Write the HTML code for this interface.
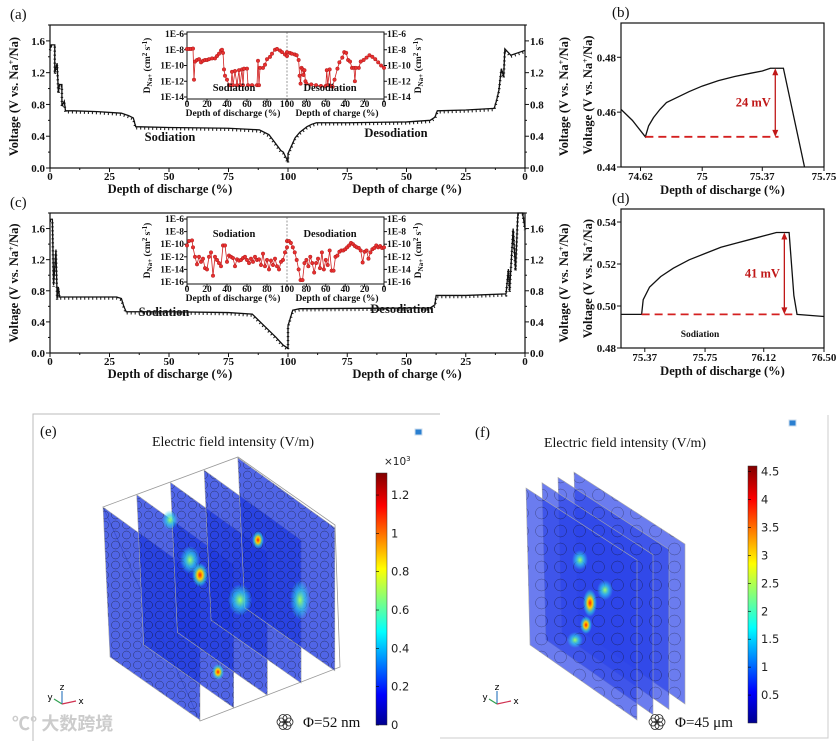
<!DOCTYPE html>
<html><head><meta charset="utf-8">
<style>
html,body{margin:0;padding:0;background:#fff;}
svg{display:block;font-family:"Liberation Serif","Noto Serif CJK SC",serif;}
.tk{font-weight:bold;font-size:11px;fill:#111;}
.tt{font-weight:bold;font-size:12.5px;fill:#111;}
.it{font-weight:bold;font-size:9.5px;fill:#111;}
.sans{font-family:"DejaVu Sans","Liberation Sans",sans-serif;}
</style></head>
<body>
<svg id="fig" width="837" height="741" viewBox="0 0 837 741" xmlns="http://www.w3.org/2000/svg">
<defs>
<linearGradient id="jet" x1="0" y1="1" x2="0" y2="0">
<stop offset="0" stop-color="#00008f"/><stop offset="0.12" stop-color="#0000ff"/><stop offset="0.37" stop-color="#00ffff"/><stop offset="0.62" stop-color="#ffff00"/><stop offset="0.87" stop-color="#ff0000"/><stop offset="1" stop-color="#800000"/>
</linearGradient>
<pattern id="rings" width="11" height="10" patternUnits="userSpaceOnUse">
<circle cx="5.5" cy="5" r="4" fill="none" stroke="#111" stroke-width="0.5" opacity="0.6"/>
</pattern>
<pattern id="rings2" width="19" height="18" patternUnits="userSpaceOnUse">
<circle cx="9.5" cy="9" r="6" fill="none" stroke="#112" stroke-width="0.5" opacity="0.5"/>
</pattern>
<radialGradient id="hot" cx="0.5" cy="0.5" r="0.5">
<stop offset="0" stop-color="#ff2000"/><stop offset="0.35" stop-color="#ffd000"/><stop offset="0.7" stop-color="#30e0e0" stop-opacity="0.6"/><stop offset="1" stop-color="#30e0e0" stop-opacity="0"/>
</radialGradient>
<radialGradient id="warm" cx="0.5" cy="0.5" r="0.5">
<stop offset="0" stop-color="#a0ff60"/><stop offset="0.5" stop-color="#30d0f0" stop-opacity="0.7"/><stop offset="1" stop-color="#30d0f0" stop-opacity="0"/>
</radialGradient>
</defs>
</svg>
<script>
// ---------- DATA ----------
const aDischarge = [[0,1.5],[0.5,1.55],[2,1.55],[2,1.2],[3,1.32],[3.5,0.95],[4,1.05],[5,1.05],[5,0.78],[6,0.84],[6.5,0.72],[10,0.72],[20,0.71],[30,0.69],[33,0.66],[35,0.63],[36,0.52],[50,0.51],[75,0.5],[88,0.48],[92,0.42],[95,0.3],[97,0.22],[98,0.2],[99,0.14],[100,0.08]];
const aCharge = [[100,0.1],[100,0.18],[97,0.38],[95,0.45],[92,0.52],[90,0.55],[88,0.57],[75,0.57],[50,0.58],[40,0.6],[38,0.64],[37,0.72],[25,0.73],[13,0.75],[12,0.85],[11,0.98],[10,1.25],[9,1.15],[8.5,1.5],[6,1.42],[3,1.45],[0,1.48]];
const cDischarge = [[0,1.72],[1,1.72],[1.5,0.87],[2.5,1.33],[3,0.7],[3.5,0.85],[4,0.72],[28,0.72],[30,0.7],[31,0.6],[32,0.53],[50,0.53],[75,0.52],[85,0.5],[90,0.35],[95,0.2],[98,0.1],[100,0.06]];
const cCharge = [[100,0.08],[100,0.35],[98,0.55],[95,0.57],[40,0.58],[38,0.62],[37.5,0.74],[25,0.74],[8,0.76],[7,1.08],[6.5,0.8],[5,1.6],[4,1.07],[3,1.8],[1,1.8],[0,1.6]];
const voltTicks = ["0.0","0.4","0.8","1.2","1.6"];
const voltTickVals = [0,0.4,0.8,1.2,1.6];
const depthTicks = [0,25,50,75,100];

const aInsetDis = [[0,-7.9],[2,-7.9],[4,-7.9],[6,-7.85],[7,-11.8],[8,-9.5],[10,-9.3],[12,-9.2],[14,-9.6],[16,-9.4],[18,-9.3],[20,-9.3],[22,-9.2],[25,-9.1],[28,-9.1],[30,-8.8],[32,-8.5],[34,-8.1],[35,-8.0],[36,-8.4],[37,-10.5],[38,-11.3],[40,-11.8],[42,-12.5],[44,-12.5],[45,-10.8],[46,-12.5],[48,-10.7],[50,-12.5],[52,-10.6],[53,-12.5],[55,-10.5],[56,-12.5],[57,-10.4],[60,-10.4],[61,-12.5],[65,-12.5],[70,-12.5],[71,-9.4],[72,-12.5],[73,-10.3],[76,-10.3],[78,-9.9],[80,-9.2],[83,-8.9],[85,-8.5],[88,-8.0],[90,-7.9],[93,-8.1],[95,-8.3],[98,-8.6],[100,-8.8]];
const aInsetCha = [[100,-8.3],[97,-8.4],[95,-8.5],[92,-8.6],[90,-8.7],[88,-9.3],[87,-11.3],[86,-12.3],[85,-10.3],[84,-10.5],[83,-11.2],[82,-10.6],[81,-12.0],[80,-12.3],[75,-12.4],[70,-12.5],[65,-12.6],[60,-12.6],[59,-10.6],[58,-12.5],[56,-10.5],[55,-12.6],[53,-12.7],[51,-11.8],[48,-10.4],[46,-9.6],[43,-9.0],[41,-8.3],[39,-8.4],[37,-9.3],[35,-9.5],[33,-10.3],[31,-10.3],[30,-12.0],[29,-10.3],[26,-10.3],[24,-9.5],[21,-9.3],[18,-9.0],[15,-8.7],[12,-8.9],[9,-9.2],[6,-9.6],[3,-10.0],[0,-10.3]];
const cInsetDis = [[0,-10.2],[2,-9.5],[5,-9.4],[6,-10.5],[8,-12],[10,-13.2],[12,-12],[14,-12.8],[16,-12.3],[18,-13.8],[20,-14],[22,-12],[24,-11.3],[26,-15],[28,-12],[30,-12.5],[32,-13],[34,-13.5],[36,-10.2],[38,-10.2],[40,-12.8],[42,-11.8],[44,-12],[46,-12.2],[48,-13.5],[50,-12.4],[52,-12.6],[54,-12.5],[56,-12.2],[58,-12],[60,-12.5],[62,-13],[64,-12.3],[66,-12.8],[68,-12],[70,-12.5],[72,-12.4],[74,-13.3],[76,-11.5],[78,-13.5],[80,-12.5],[82,-14],[84,-12.6],[86,-13.3],[88,-12.3],[90,-13.5],[92,-14],[94,-12.8],[96,-12.5],[98,-11.3],[100,-10.5]];
const cInsetCha = [[100,-9.5],[98,-9.5],[96,-9.8],[94,-10.5],[92,-11.3],[90,-12.5],[88,-14],[86,-15.7],[84,-15.7],[82,-13],[80,-12.5],[78,-13.5],[76,-12],[74,-13],[72,-14.5],[70,-13],[68,-12.3],[66,-13.8],[64,-11.3],[62,-14],[60,-12.5],[58,-13.3],[56,-11],[54,-14.2],[52,-14.2],[50,-12],[48,-11.8],[46,-11.2],[44,-11],[42,-11],[40,-10.8],[38,-10.5],[36,-10.2],[34,-9.8],[32,-10],[30,-10.3],[28,-10.5],[26,-10.6],[24,-11],[22,-12.9],[20,-11.2],[18,-11],[16,-12.3],[14,-11.3],[12,-10.8],[10,-10.6],[8,-10.2],[6,-10.5],[4,-10.3],[2,-10.6],[0,-10.5]];
const insetDepthTicks = [0,20,40,60,80,100];
const aInsetLogTicks = [-6,-8,-10,-12,-14];
const cInsetLogTicks = [-6,-8,-10,-12,-14,-16];

const bCurve = [[74.5,0.461],[74.57,0.457],[74.65,0.451],[74.67,0.455],[74.7,0.458],[74.74,0.461],[74.78,0.4635],[74.85,0.4655],[74.92,0.4675],[75.0,0.4695],[75.1,0.4715],[75.2,0.473],[75.3,0.4742],[75.37,0.475],[75.42,0.476],[75.5,0.476],[75.63,0.44]];
const bDashed = [74.65,75.47,0.451];
const bArrow = [75.45,0.451,0.476];
const bXTicks = [74.62,75,75.37,75.75];
const bXLabels = ["74.62","75","75.37","75.75"];
const bYTicks = [0.44,0.46,0.48];
const bYLabels = ["0.44","0.46","0.48"];

const dCurve = [[75.22,0.496],[75.35,0.496],[75.36,0.503],[75.4,0.509],[75.47,0.514],[75.55,0.518],[75.65,0.522],[75.75,0.525],[75.85,0.528],[75.95,0.53],[76.05,0.532],[76.15,0.534],[76.2,0.535],[76.28,0.535],[76.31,0.505],[76.33,0.496],[76.5,0.495]];
const dDashed = [75.35,76.3,0.496];
const dArrow = [76.25,0.496,0.535];
const dXTicks = [75.37,75.75,76.12,76.5];
const dXLabels = ["75.37","75.75","76.12","76.50"];
const dYTicks = [0.48,0.5,0.52,0.54];
const dYLabels = ["0.48","0.50","0.52","0.54"];

const eBarTicks = [0,0.2,0.4,0.6,0.8,1,1.2];
const eBarLabels = ["0","0.2","0.4","0.6","0.8","1","1.2"];
const fBarTicks = [0.5,1,1.5,2,2.5,3,3.5,4,4.5];
const fBarLabels = ["0.5","1","1.5","2","2.5","3","3.5","4","4.5"];

// ---------- HELPERS ----------
const NS="http://www.w3.org/2000/svg";
const svg=document.getElementById('fig');
function el(tag,attrs,parent,txt){const e=document.createElementNS(NS,tag);for(const k in attrs)e.setAttribute(k,attrs[k]);if(txt!==undefined)e.textContent=txt;(parent||svg).appendChild(e);return e;}
function grp(name){const g=el('g',{});


return g;}
function line(g,x1,y1,x2,y2,w,c,extra){const l=el('line',Object.assign({x1,y1,x2,y2,stroke:c||'#111','stroke-width':w||1},extra||{}),g);


return l;}
function text(g,x,y,s,cls,anchor,name,extra){const t=el('text',Object.assign({x,y,class:cls,'text-anchor':anchor||'middle'},extra||{}),g,s);


return t;}

// ---------- MAIN PANELS (a),(c) ----------
function mainPanel(name,label,yBottom,yTop,dis,cha,texts){
  const g=grp(name);
  const L=50,M=288,R=525;
  const xd=d=>L+d*(M-L)/100, xc=c=>R-c*(R-M)/100;
  const yv=v=>yBottom-v*(yBottom-yTop)/1.8;
  text(g,10,yTop-6,label,'tt','start','panel-label',{style:'font-weight:normal;font-size:15px'});
  const fr=el('rect',{x:L,y:yTop,width:R-L,height:yBottom-yTop,fill:'none',stroke:'#111','stroke-width':1.2},g);
  
  
  voltTickVals.forEach((v,i)=>{line(g,L-4,yv(v),L,yv(v));line(g,R,yv(v),R+4,yv(v));
    text(g,L-5,yv(v)+4,voltTicks[i],'tk','end','y-tick-label');text(g,R+5,yv(v)+4,voltTicks[i],'tk','start','y-tick-label-right');
    line(g,L-2,yv(v+0.2),L,yv(v+0.2));line(g,R,yv(v+0.2),R+2,yv(v+0.2));});
  depthTicks.forEach(d=>{line(g,xd(d),yBottom,xd(d),yBottom+4);text(g,xd(d),yBottom+12,String(d),'tk','middle','x-tick-label');
    if(d<100){line(g,xc(d),yBottom,xc(d),yBottom+4);text(g,xc(d),yBottom+12,String(d),'tk','middle','x-tick-label-charge');}
    if(d<100){line(g,xd(d+12.5),yBottom,xd(d+12.5),yBottom+2);line(g,xc(d+12.5),yBottom,xc(d+12.5),yBottom+2);}});
  text(g,170,yBottom+25,'Depth of discharge (%)','tt','middle','x-axis-title-discharge');
  text(g,407,yBottom+25,'Depth of charge (%)','tt','middle','x-axis-title-charge');
  const yc=(yBottom+yTop)/2;
  text(g,18,yc,'','tt','middle','y-axis-title',{transform:`rotate(-90 18 ${yc})`}).innerHTML='Voltage (V vs. Na<tspan dy="-4" font-size="8">+</tspan><tspan dy="4">/Na)</tspan>';
  text(g,568,yc,'','tt','middle','y-axis-title-right',{transform:`rotate(-90 568 ${yc})`}).innerHTML='Voltage (V vs. Na<tspan dy="-4" font-size="8">+</tspan><tspan dy="4">/Na)</tspan>';
  const pts=dis.map(p=>xd(p[0])+','+yv(p[1])).concat(cha.map(p=>xc(p[0])+','+yv(p[1])));
  const pl=el('polyline',{points:pts.join(' '),fill:'none',stroke:'#111','stroke-width':1.3},g);
  
  
  const pl2=el('polyline',{points:pts.join(' '),fill:'none',stroke:'#111','stroke-width':2.5,'stroke-dasharray':'1 3',transform:'translate(0,1.5)'},g);
  
  
  text(g,texts[0],texts[1],'Sodiation','tt','middle','sodiation-label');
  text(g,texts[2],texts[3],'Desodiation','tt','middle','desodiation-label');
  return g;
}
function inset(name,parent,top,bottom,logTop,logBottom,ticks,dis,cha,tl,tx){
  const g=grp(name);parent.appendChild(g);
  const L=187,M=287,R=384;
  const xd=d=>L+d*(M-L)/100, xc=c=>R-c*(R-M)/100;
  const yl=v=>top+(logTop-v)*(bottom-top)/(logTop-logBottom);
  const bg=el('rect',{x:L,y:top-2,width:R-L,height:bottom-top+4,fill:'#fff',stroke:'#111','stroke-width':1},g);
  
  
  line(g,M,top-2,M,bottom+2,0.6,'#555',{'stroke-dasharray':'2 1.5'});
  ticks.forEach(v=>{line(g,L-3,yl(v),L,yl(v));line(g,R,yl(v),R+3,yl(v));
    text(g,L-3,yl(v)+3,'1E'+v,'it','end','inset-y-tick');text(g,R+3,yl(v)+3,'1E'+v,'it','start','inset-y-tick-right');});
  insetDepthTicks.forEach(d=>{line(g,xd(d),bottom+2,xd(d),bottom+5);text(g,xd(d),bottom+10,String(d),'it','middle','inset-x-tick');
    if(d<100){line(g,xc(d),bottom+2,xc(d),bottom+5);text(g,xc(d),bottom+10,String(d),'it','middle','inset-x-tick-charge');}});
  text(g,233,bottom+19,'Depth of discharge (%)','it','middle','inset-x-title-discharge');
  text(g,337,bottom+19,'Depth of charge (%)','it','middle','inset-x-title-charge');
  const yc=(top+bottom)/2;
  text(g,150,yc,'','it','middle','inset-y-title',{transform:`rotate(-90 150 ${yc})`}).innerHTML='D<tspan font-size="7" dy="2">Na+</tspan><tspan dy="-2"> (cm</tspan><tspan font-size="7" dy="-3">2</tspan><tspan dy="3"> s</tspan><tspan font-size="7" dy="-3">-1</tspan><tspan dy="3">)</tspan>';
  text(g,421,yc,'','it','middle','inset-y-title-right',{transform:`rotate(-90 421 ${yc})`}).innerHTML='D<tspan font-size="7" dy="2">Na+</tspan><tspan dy="-2"> (cm</tspan><tspan font-size="7" dy="-3">2</tspan><tspan dy="3"> s</tspan><tspan font-size="7" dy="-3">-1</tspan><tspan dy="3">)</tspan>';
  const all=dis.map(p=>[xd(p[0]),yl(p[1])]).concat(cha.map(p=>[xc(p[0]),yl(p[1])]));
  const pd=el('polyline',{points:dis.map(p=>xd(p[0])+','+yl(p[1])).join(' '),fill:'none',stroke:'#d02020','stroke-width':0.8},g);
  
  
  const pc=el('polyline',{points:cha.map(p=>xc(p[0])+','+yl(p[1])).join(' '),fill:'none',stroke:'#d02020','stroke-width':0.8},g);
  
  
  all.forEach(p=>{const c=el('circle',{cx:p[0],cy:p[1],r:1.8,fill:'#e83030',stroke:'#a01010','stroke-width':0.4},g);
    
    });
  text(g,tl,tx,'Sodiation','tt','middle','inset-sodiation-label',{style:'font-size:10.5px'});
  text(g,330,tx,'Desodiation','tt','middle','inset-desodiation-label',{style:'font-size:10.5px'});
}
const ga=mainPanel('panel-a','(a)',168,25,aDischarge,aCharge,[170,141,396,137]);
inset('inset-a',ga,34,97,-6,-14,aInsetLogTicks,aInsetDis,aInsetCha,234,91);
const gc=mainPanel('panel-c','(c)',353,213,cDischarge,cCharge,[164,316,402,313]);
inset('inset-c',gc,219,282,-6,-16,cInsetLogTicks,cInsetDis,cInsetCha,234,237);

// ---------- ZOOM PANELS (b),(d) ----------
function zoomPanel(name,label,L,R,top,bottom,xmin,xmax,ymin,ymax,curve,dashed,arrow,xt,xl,yt,yl,mv,extraText){
  const g=grp(name);
  const xs=v=>L+(v-xmin)*(R-L)/(xmax-xmin), ys=v=>bottom-(v-ymin)*(bottom-top)/(ymax-ymin);
  text(g,612,top-6,label,'tt','start','panel-label',{style:'font-weight:normal;font-size:15px'});
  const cl=el('clipPath',{id:'clip-'+name},g);el('rect',{x:L,y:top,width:R-L,height:bottom-top},cl);
  const fr=el('rect',{x:L,y:top,width:R-L,height:bottom-top,fill:'none',stroke:'#111','stroke-width':1.2},g);
  
  
  xt.forEach((v,i)=>{line(g,xs(v),bottom,xs(v),bottom+4);text(g,xs(v),bottom+13,xl[i],'tk','middle','x-tick-label');});
  yt.forEach((v,i)=>{line(g,L-4,ys(v),L,ys(v));text(g,L-5,ys(v)+4,yl[i],'tk','end','y-tick-label');});
  text(g,(L+R)/2,bottom+27,'Depth of discharge (%)','tt','middle','x-axis-title');
  const yc=(top+bottom)/2;
  text(g,592,yc,'','tt','middle','y-axis-title',{transform:`rotate(-90 592 ${yc})`}).innerHTML='Voltage (V vs. Na<tspan dy="-4" font-size="8">+</tspan><tspan dy="4">/Na)</tspan>';
  const pl=el('polyline',{points:curve.map(p=>xs(p[0])+','+ys(p[1])).join(' '),fill:'none',stroke:'#111','stroke-width':1.3,'clip-path':`url(#clip-${name})`},g);
  
  
  const dl=el('line',{x1:xs(dashed[0]),y1:ys(dashed[2]),x2:xs(dashed[1]),y2:ys(dashed[2]),stroke:'#d42020','stroke-width':1.8,'stroke-dasharray':'8 5'},g);
  
  
  const ax=xs(arrow[0]),y1=ys(arrow[1]),y2=ys(arrow[2]);
  const al=el('line',{x1:ax,y1:y1-5,x2:ax,y2:y2+5,stroke:'#c01818','stroke-width':1.3},g);
  
  
  const h1=el('polygon',{points:`${ax},${y2} ${ax-3},${y2+7} ${ax+3},${y2+7}`,fill:'#c01818'},g);
  
  
  const h2=el('polygon',{points:`${ax},${y1} ${ax-3},${y1-7} ${ax+3},${y1-7}`,fill:'#c01818'},g);
  
  
  text(g,ax-22,(y1+y2)/2+4,mv,'tt','middle','voltage-difference-label',{style:'fill:#c01818'});
  if(extraText)text(g,extraText[0],extraText[1],extraText[2],'it','middle','sodiation-label');
}
zoomPanel('panel-b','(b)',621,824,23,167,74.5,75.75,0.44,0.4925,bCurve,bDashed,bArrow,bXTicks,bXLabels,bYTicks,bYLabels,'24 mV');
zoomPanel('panel-d','(d)',621,824,209,348,75.22,76.5,0.48,0.5462,dCurve,dDashed,dArrow,dXTicks,dXLabels,dYTicks,dYLabels,'41 mV',[700,337,'Sodiation']);

// ---------- SIMULATION PANELS (e),(f) ----------
function simPanel(name,label,lx,ly,tx,ty,planes,pat,fillC,fillO,hots,bar,barTicks,barLabels,barMax,phi,phiX,extraMult){
  const g=grp(name);
  text(g,lx,ly,label,'tt','start','panel-label',{style:'font-weight:normal;font-size:15px'});
  text(g,tx,ty,'Electric field intensity (V/m)','tt','middle','plot-title',{style:'font-weight:normal;font-size:14px'});
  planes.forEach((p,i)=>{
    const pts=p.map(q=>q.join(',')).join(' ');
    const pg=el('polygon',{points:pts,fill:fillC,'fill-opacity':fillO,stroke:'#aaa','stroke-width':0.6},g);
    
    
    const pr=el('polygon',{points:pts,fill:`url(#${pat})`},g);
    
    
  });
  hots.forEach(h=>{const e=el('ellipse',{cx:h[0],cy:h[1],rx:h[2],ry:h[3],fill:`url(#${h[4]})`},g);
    
    });
  const br=el('rect',{x:bar[0],y:bar[1],width:bar[2],height:bar[3]-bar[1],fill:'url(#jet)',stroke:'#333','stroke-width':0.5},g);
  
  
  barTicks.forEach((v,i)=>{const y=bar[3]-v/barMax*(bar[3]-bar[1]);
    line(g,bar[0],y,bar[0]+3,y,0.6,'#000');
    text(g,bar[0]+bar[2]+4,y+4,barLabels[i],'sans','start','colorbar-tick',{style:'font-size:11.5px;fill:#222'});});
  if(extraMult){const t=text(g,bar[0]+8,bar[1]-8,'','sans','start','colorbar-multiplier',{style:'font-size:10.5px;fill:#222'});t.innerHTML='×10<tspan dy="-4" font-size="7">3</tspan>';}
  const ax=lx+22, ay=704;
  line(g,ax,ay,ax,ay-13,1.2,'#3a7fc0');line(g,ax,ay,ax+14,ay-3,1.2,'#d03050');line(g,ax,ay,ax-8,ay-5,1.2,'#30a050');
  text(g,ax,ay-14,'z','sans','middle','axis-z',{style:'font-size:9px'});text(g,ax+19,ay,'x','sans','middle','axis-x',{style:'font-size:9px'});text(g,ax-12,ay-4,'y','sans','middle','axis-y',{style:'font-size:9px'});
  const ring=el('g',{},g);
  
  
  for(let k=0;k<6;k++){const a=k*Math.PI/3;el('circle',{cx:phiX-18+4*Math.cos(a),cy:722+4*Math.sin(a),r:4,fill:'none',stroke:'#222','stroke-width':0.8},ring);}
  text(g,phiX,727,phi,'tt','start','particle-size-label',{style:'font-weight:normal;font-size:15px'});
}
const fe=el('path',{d:'M33 741 L33 414 L440 414',fill:'none',stroke:'#bbb','stroke-width':1});


const ff=el('path',{d:'M440 738 L828 738 L828 415',fill:'none',stroke:'#ccc','stroke-width':1});


const bx=el('polygon',{points:'103,507 238,457 335,525 340,667 200,721',fill:'none',stroke:'#999','stroke-width':0.8});


const ePlanes=[0,1,2,3,4].map(i=>{const x=103+33.7*i,y=507-12.3*i;return [[x,y],[x+97,y+70],[x+97,y+213],[x+7,y+150]];});
const fPlanes=[3,2,1,0].map(i=>{const x=526+16*i,y=488-5.3*i;return [[x,y],[x+111,y+72],[x+111,y+232],[x+4,y+157]];});
simPanel('panel-e','(e)',40,436,233,446,ePlanes,'rings','#1f3ae0',0.78,
  [[200,575,8,12,'hot'],[258,540,6,9,'hot'],[218,672,6,8,'hot'],[190,560,10,14,'warm'],[240,600,12,16,'warm'],[300,600,10,20,'warm'],[170,520,8,10,'warm']],
  [376,473,11,725],eBarTicks,eBarLabels,1.315,'Φ=52 nm',303,true);
simPanel('panel-f','(f)',475,437,625,447,fPlanes,'rings2','#2c44e8',0.7,
  [[590,603,7,14,'hot'],[586,625,6,9,'hot'],[580,560,8,10,'warm'],[605,590,8,10,'warm'],[575,640,8,8,'warm']],
  [748,466,9,723],fBarTicks,fBarLabels,4.6,'Φ=45 μm',675,false);
[[418,432],[792,423]].forEach(p=>{const r=el('rect',{x:p[0]-3,y:p[1]-3,width:7,height:6,fill:'#2a7fd0',stroke:'#cde','stroke-width':1});
  
  });
const wm=el('text',{x:12,y:730,style:'font-family:"Noto Sans CJK SC",sans-serif;font-size:18px;fill:#ccc;font-weight:bold'},svg,'℃° 大数跨境');


</script>
</body></html>
